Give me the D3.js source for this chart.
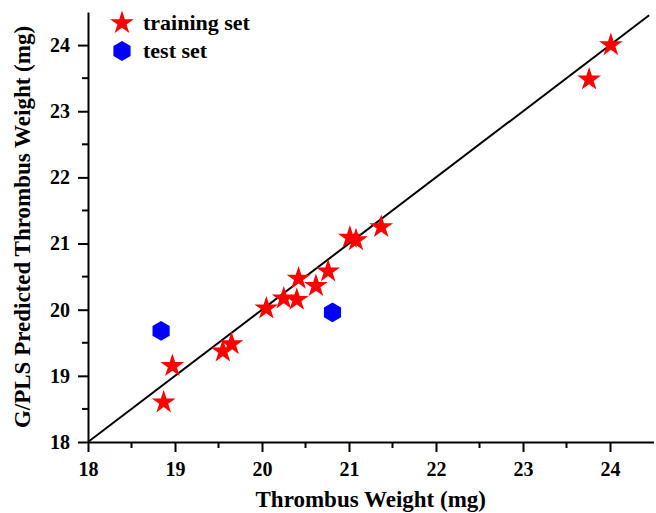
<!DOCTYPE html>
<html><head><meta charset="utf-8">
<script src="https://cdn.jsdelivr.net/npm/d3@7"></script>
<style>body{margin:0;background:#fff}svg{display:block}text{font-family:"Liberation Serif","Times New Roman",serif;font-weight:bold}</style>
</head><body>
<script>
const trainX = [24.01, 23.76, 21.37, 21.01, 21.08, 20.76, 20.62, 20.42, 20.40, 20.25, 20.05, 19.65, 19.55, 18.97, 18.87];
const trainY = [24.00, 23.48, 21.25, 21.09, 21.05, 20.58, 20.36, 20.47, 20.15, 20.17, 20.02, 19.48, 19.37, 19.15, 18.60];
const testX = [18.84, 20.81];
const testY = [19.68, 19.96];
const tickVals = [18, 19, 20, 21, 22, 23, 24];
const legendLabels = ["training set", "test set"];

const W = 656, H = 513;
const svg = d3.select("body").append("svg").attr("width", W).attr("height", H);
const x = d3.scaleLinear().domain([18, 24.5]).range([88, 653.5]);
const y = d3.scaleLinear().domain([18, 24.5]).range([442, 12]);

// axes
const xAxis = d3.axisBottom(x).tickValues(tickVals).tickSize(10).tickSizeOuter(0).tickPadding(10).tickFormat(d3.format("d"));
const yAxis = d3.axisLeft(y).tickValues(tickVals).tickSize(10).tickSizeOuter(0).tickPadding(8).tickFormat(d3.format("d"));
const minor = d3.range(18.5, 24.5, 1);
const gx = svg.append("g").attr("transform", `translate(0,${y(18)})`).call(xAxis);
const gy = svg.append("g").attr("transform", `translate(${x(18)},0)`).call(yAxis);
gx.selectAll(".minor").data(minor).enter().append("line").attr("x1", d => x(d)).attr("x2", d => x(d)).attr("y1", 0).attr("y2", 6).attr("stroke", "#000").attr("stroke-width", 2);
gy.selectAll(".minor").data(minor).enter().append("line").attr("y1", d => y(d)).attr("y2", d => y(d)).attr("x1", 0).attr("x2", -6).attr("stroke", "#000").attr("stroke-width", 2);
[gx, gy].forEach(g => {
  g.select(".domain").attr("stroke-width", 2);
  g.selectAll(".tick line").attr("stroke-width", 2);
  g.selectAll("text").attr("font-size", 20).attr("font-family", "Liberation Serif").attr("font-weight", "bold").attr("fill", "#000");
});

// diagonal
svg.append("line").attr("x1", x(18)).attr("y1", y(18)).attr("x2", x(24.45)).attr("y2", y(24.45))
  .attr("stroke", "#000").attr("stroke-width", 2);

const star = d3.symbol().type(d3.symbolStar).size(175);
const hex = d3.symbol().type({draw(ctx, size){ const r = Math.sqrt(size / (1.5*Math.sqrt(3))); for (let i=0;i<6;i++){ const a = Math.PI/2 + i*Math.PI/3; const px=r*Math.cos(a), py=r*Math.sin(a); if(i===0) ctx.moveTo(px,py); else ctx.lineTo(px,py);} ctx.closePath(); }}).size(255);

svg.append("g").selectAll("path").data(trainX.map((d,i)=>[d,trainY[i]])).enter().append("path")
  .attr("d", star).attr("fill", "#ff0000").attr("transform", d => `translate(${x(d[0])},${y(d[1])})`);
svg.append("g").selectAll("path").data(testX.map((d,i)=>[d,testY[i]])).enter().append("path")
  .attr("d", hex).attr("fill", "#0000ff").attr("transform", d => `translate(${x(d[0])},${y(d[1])})`);

// legend
const lg = svg.append("g");
lg.append("path").attr("d", star).attr("fill", "#ff0000").attr("transform", "translate(122,23)");
lg.append("path").attr("d", hex).attr("fill", "#0000ff").attr("transform", "translate(122,51)");
lg.selectAll("text").data(legendLabels).enter().append("text").attr("x", 143).attr("y", (d,i)=>30+i*28)
  .attr("font-size", 22).text(d => d);

// titles
svg.append("text").attr("x", x(21.25)).attr("y", 507).attr("text-anchor", "middle").attr("font-size", 23).text("Thrombus Weight (mg)");
svg.append("text").attr("transform", `translate(30,${y(21.25)}) rotate(-90)`).attr("text-anchor", "middle").attr("font-size", 23).text("G/PLS Predicted Thrombus Weight (mg)");
</script>
</body></html>
